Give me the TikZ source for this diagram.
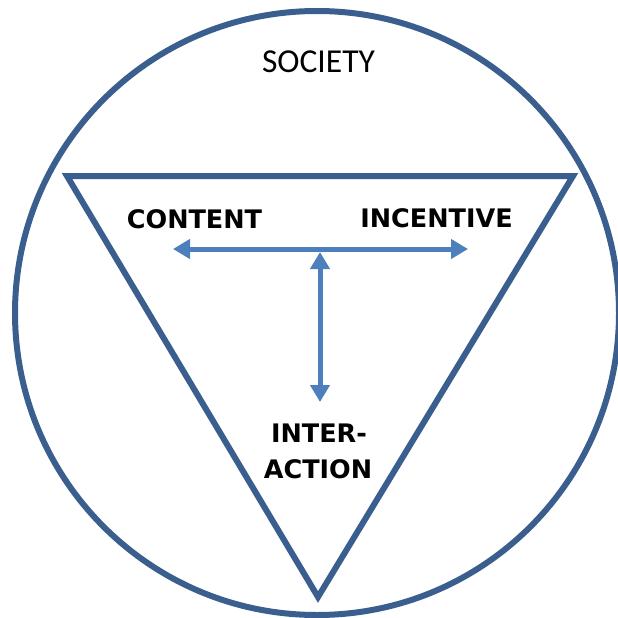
\documentclass[tikz,border=0pt]{standalone}
\usepackage{fontspec}
\newfontfamily\labelfont{DejaVu Sans}
\newfontfamily\socfont{Carlito}
\usetikzlibrary{arrows.meta}
\definecolor{outline}{RGB}{58,95,142}
\definecolor{arrowblue}{RGB}{76,127,188}
\tikzset{
  frame/.style={draw=outline, line width=6pt},
  link/.style={draw=arrowblue, line width=5pt, {Triangle[width=19pt,length=17pt]}-{Triangle[width=19pt,length=17pt]}},
  bold label/.style={font=\labelfont\bfseries\fontsize{25.5}{36.5}\selectfont, anchor=base, inner sep=0pt, align=center},
  soc label/.style={font=\socfont\fontsize{33.5}{40}\selectfont, anchor=base, inner sep=0pt}
}
\begin{document}
\begin{tikzpicture}[x=1pt,y=-1pt]
\useasboundingbox (0,0) rectangle (618,618);
\begin{scope}
\clip (0,0) rectangle (618,618);
\draw[frame] (317,313) circle[radius=302];
\end{scope}
\draw[frame, line join=miter] (67,176) -- (573,176) -- (318,597) -- cycle;
\node[soc label] (society) at (318.5,72) {SOCIETY};
\node[bold label] (content) at (194.5,228) {CONTENT};
\node[bold label] (incentive) at (436.5,227) {INCENTIVE};
\node[bold label] (inter) at (319,442) {INTER-};
\node[bold label] (action) at (318,478) {ACTION};
\coordinate (L) at (173,249);
\coordinate (R) at (468,249);
\coordinate (J) at (320,252);
\coordinate (B) at (320,402);
\draw[link] (L) -- (R);
\draw[link] (J) -- (B);
\end{tikzpicture}
\end{document}
